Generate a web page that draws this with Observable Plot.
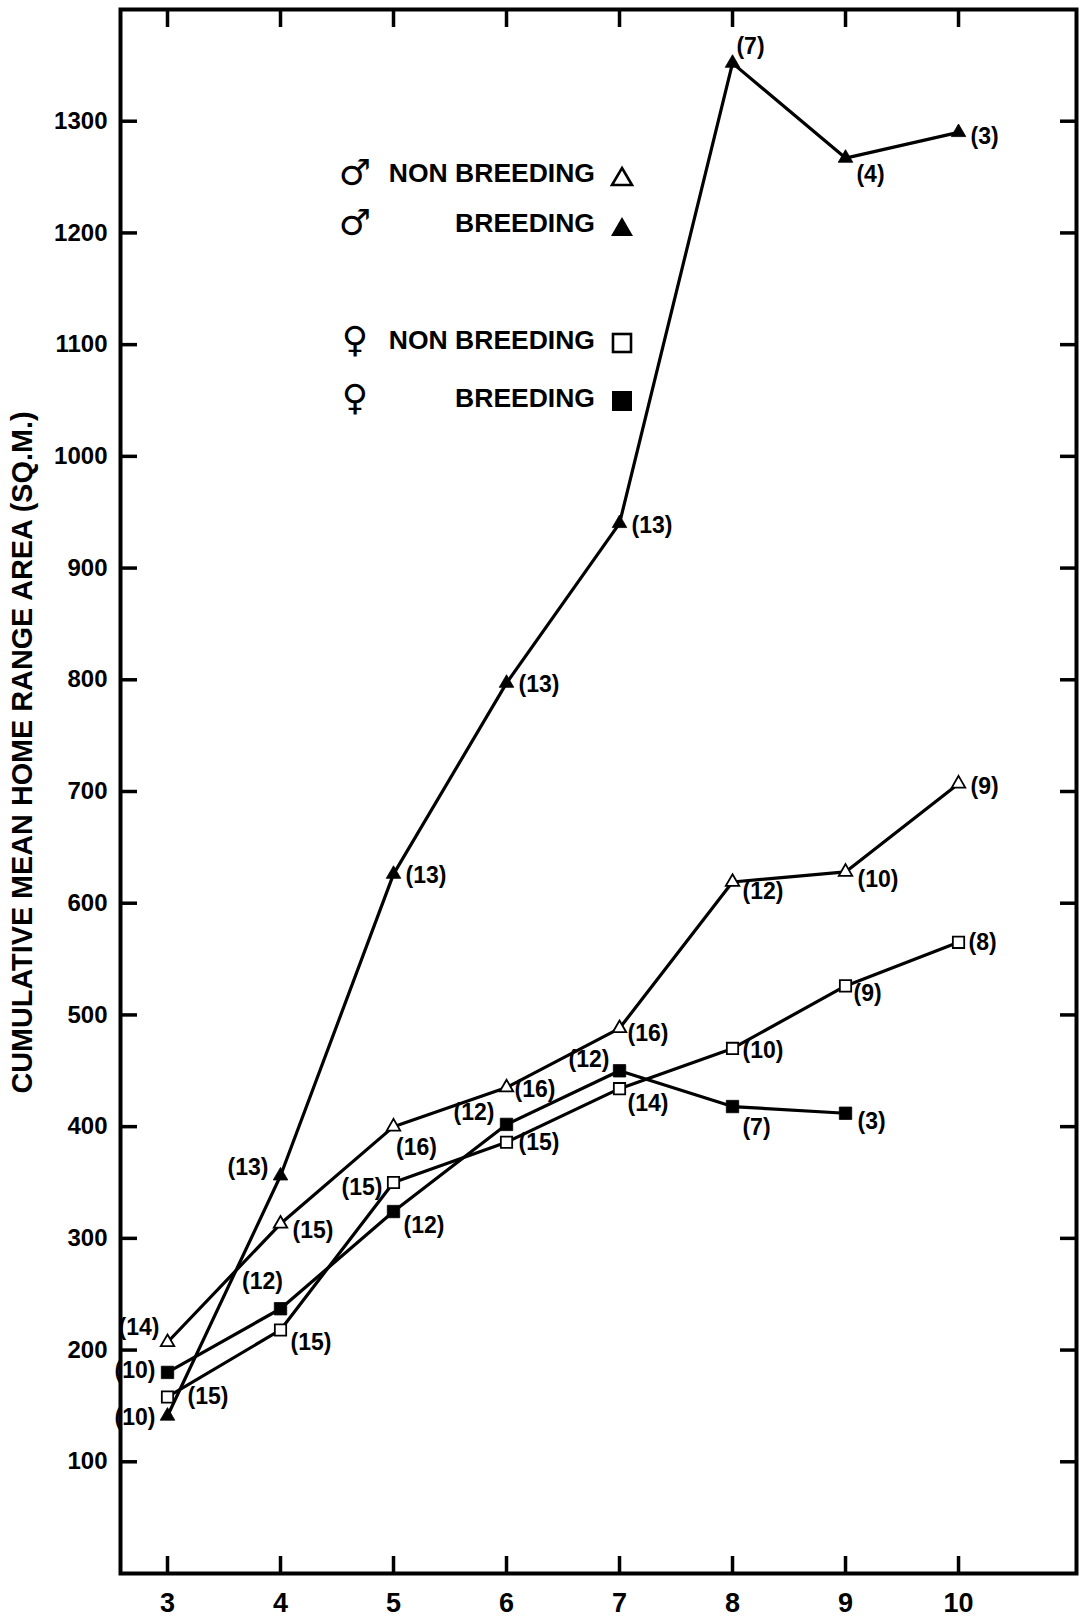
<!DOCTYPE html>
<html>
<head>
<meta charset="utf-8">
<script src="https://cdn.jsdelivr.net/npm/d3@7"></script>
<script src="https://cdn.jsdelivr.net/npm/@observablehq/plot@0.6"></script>
<style>
  body { margin: 0; background: #fff; }
  #fig { position: relative; width: 1090px; height: 1617px; overflow: hidden;
         font-family: "Liberation Sans", Arial, sans-serif; font-weight: bold; color: #000; background: #fff; }
  #fig > svg { position: absolute; left: 0; top: 0; }
  .key { position: absolute; left: 0; width: 700px; height: 40px; line-height: 40px; }
  .key .sex { position: absolute; left: 334px; width: 42px; text-align: center;
              font-family: "DejaVu Sans", sans-serif; font-weight: bold; font-size: 36px; }
  .key .lab { position: absolute; right: 105px; font-size: 26.5px; white-space: nowrap; }
  .key .shp { position: absolute; left: 610px; top: 9px; width: 24px; height: 22px; }
</style>
</head>
<body>
<div id="fig"></div>
<script>
// Cumulative mean home range area by number of captures, per sex and breeding state.
const captures = [3, 4, 5, 6, 7, 8, 9, 10];

const maleNonBreeding   = [207, 313, 400, 435, 488, 619, 628, 707];
const maleNonBreedingN  = [14, 15, 16, 16, 16, 12, 10, 9];

const maleBreeding      = [141, 356, 626, 797, 940, 1352, 1267, 1290];
const maleBreedingN     = [10, 13, 13, 13, 13, 7, 4, 3];

const femaleNonBreeding  = [158, 218, 350, 386, 434, 470, 526, 565];
const femaleNonBreedingN = [15, 15, 15, 15, 14, 10, 9, 8];

const femaleBreeding    = [180, 237, 324, 402, 450, 418, 412];   // captures 3–9
const femaleBreedingN   = [10, 12, 12, 12, 12, 7, 3];

const xTicks = [3, 4, 5, 6, 7, 8, 9, 10];
const yTicks = [100, 200, 300, 400, 500, 600, 700, 800, 900, 1000, 1100, 1200, 1300];
const yTitle = "CUMULATIVE MEAN HOME RANGE AREA (SQ.M.)";

const legendEntries = [
  {sex: "♂", label: "NON BREEDING", key: "maleNonBreeding"},
  {sex: "♂", label: "BREEDING",     key: "maleBreeding"},
  {sex: "♀", label: "NON BREEDING", key: "femaleNonBreeding"},
  {sex: "♀", label: "BREEDING",     key: "femaleBreeding"}
];

const series = [
  {key: "maleNonBreeding",   values: maleNonBreeding,   n: maleNonBreedingN},
  {key: "maleBreeding",      values: maleBreeding,      n: maleBreedingN},
  {key: "femaleNonBreeding", values: femaleNonBreeding, n: femaleNonBreedingN},
  {key: "femaleBreeding",    values: femaleBreeding,    n: femaleBreedingN}
];

const rows = series.flatMap(s =>
  s.values.map((v, i) => ({series: s.key, x: captures[i], value: v, n: s.n[i], i}))
);

// marker look for each group
const markerStyle = {
  maleNonBreeding:   {symbol: "triangle", fill: "white", stroke: "black", strokeWidth: 1.8, r: 5},
  maleBreeding:      {symbol: "triangle", fill: "black", stroke: "black", strokeWidth: 0.8, r: 5.4},
  femaleNonBreeding: {symbol: "square",   fill: "white", stroke: "black", strokeWidth: 1.8, r: 6.4},
  femaleBreeding:    {symbol: "square",   fill: "black", stroke: "black", strokeWidth: 0.8, r: 7}
};

// where each sample-size label sits next to its marker: [anchor, dx, dy]
const labelPlacement = {
  maleBreeding:      [["end",-12,2],["end",-12,-8],["start",12,1],["start",12,1],["start",12,2],["middle",18,-16],["middle",25,17],["start",12,4]],
  maleNonBreeding:   [["end",-8,-15],["start",12,7],["middle",23,21],["start",8,2],["start",8,5],["start",10,10],["start",12,8],["start",12,3]],
  femaleNonBreeding: [["start",20,0],["start",10,13],["end",-11,5],["start",12,0],["start",8,15],["start",10,2],["start",8,8],["start",10,0]],
  femaleBreeding:    [["end",-12,-2],["middle",-18,-27],["start",10,14],["end",-12,-12],["end",-10,-11],["middle",24,21],["start",12,8]]
};

const dotMarks = series.map(s =>
  Plot.dot(rows.filter(d => d.series === s.key), {x: "x", y: "value", ...markerStyle[s.key]})
);

const labelMarks = rows.map(d => {
  const [anchor, dx, dy] = labelPlacement[d.series][d.i];
  return Plot.text([d], {x: "x", y: "value", text: r => `(${r.n})`, textAnchor: anchor, dx, dy, fontSize: 23});
});

const tickStyle = {fill: "none", tickSize: 17, strokeWidth: 3.5};

const chart = Plot.plot({
  width: 1090,
  height: 1617,
  marginLeft: 120,
  marginRight: 14,
  marginTop: 9,
  marginBottom: 44,
  x: {domain: [2.584, 11.044]},
  y: {domain: [0, 1400]},
  style: {fontFamily: "Liberation Sans, Arial, sans-serif", fontWeight: "bold", background: "white", color: "black"},
  marks: [
    Plot.frame({stroke: "black", strokeWidth: 4}),
    // inward-pointing ticks on all four sides
    Plot.axisY(yTicks, {anchor: "left", dx: 17, ...tickStyle}),
    Plot.axisY(yTicks, {anchor: "right", dx: -17, ...tickStyle}),
    Plot.axisX(xTicks, {anchor: "bottom", dy: -17, ...tickStyle}),
    Plot.axisX(xTicks, {anchor: "top", dy: 17, ...tickStyle}),
    // tick labels
    Plot.axisY(yTicks, {anchor: "left", tickSize: 0, tickPadding: 13, fontSize: 24, tickFormat: d => String(d), label: null}),
    Plot.axisX(xTicks, {anchor: "bottom", tickSize: 0, tickPadding: 19, fontSize: 27, tickFormat: d => String(d), label: null}),
    Plot.text([yTitle], {text: d => d, frameAnchor: "left", textAnchor: "middle", lineAnchor: "middle",
                         rotate: -90, dx: -98, dy: -39, fontSize: 28.8}),
    Plot.line(rows, {x: "x", y: "value", z: "series", stroke: "black", strokeWidth: 3.2}),
    ...dotMarks,
    ...labelMarks
  ]
});

const fig = document.getElementById("fig");
fig.appendChild(chart);

// key, drawn over the upper-left part of the plot
const legendTop = [173, 223, 340, 398];
const shapeSvg = {
  maleNonBreeding:   '<svg width="24" height="22"><polygon points="12,3 22,20 2,20" fill="white" stroke="black" stroke-width="2.6"/></svg>',
  maleBreeding:      '<svg width="24" height="22"><polygon points="12,2 23,21 1,21" fill="black"/></svg>',
  femaleNonBreeding: '<svg width="24" height="22"><rect x="3" y="2" width="18" height="18" fill="white" stroke="black" stroke-width="2.6"/></svg>',
  femaleBreeding:    '<svg width="24" height="22"><rect x="2" y="1" width="20" height="20" fill="black"/></svg>'
};
legendEntries.forEach((e, i) => {
  const row = document.createElement("div");
  row.className = "key";
  row.style.top = (legendTop[i] - 20) + "px";
  row.innerHTML = `<span class="sex">${e.sex}</span><span class="lab">${e.label}</span><span class="shp">${shapeSvg[e.key]}</span>`;
  fig.appendChild(row);
});
</script>
</body>
</html>
